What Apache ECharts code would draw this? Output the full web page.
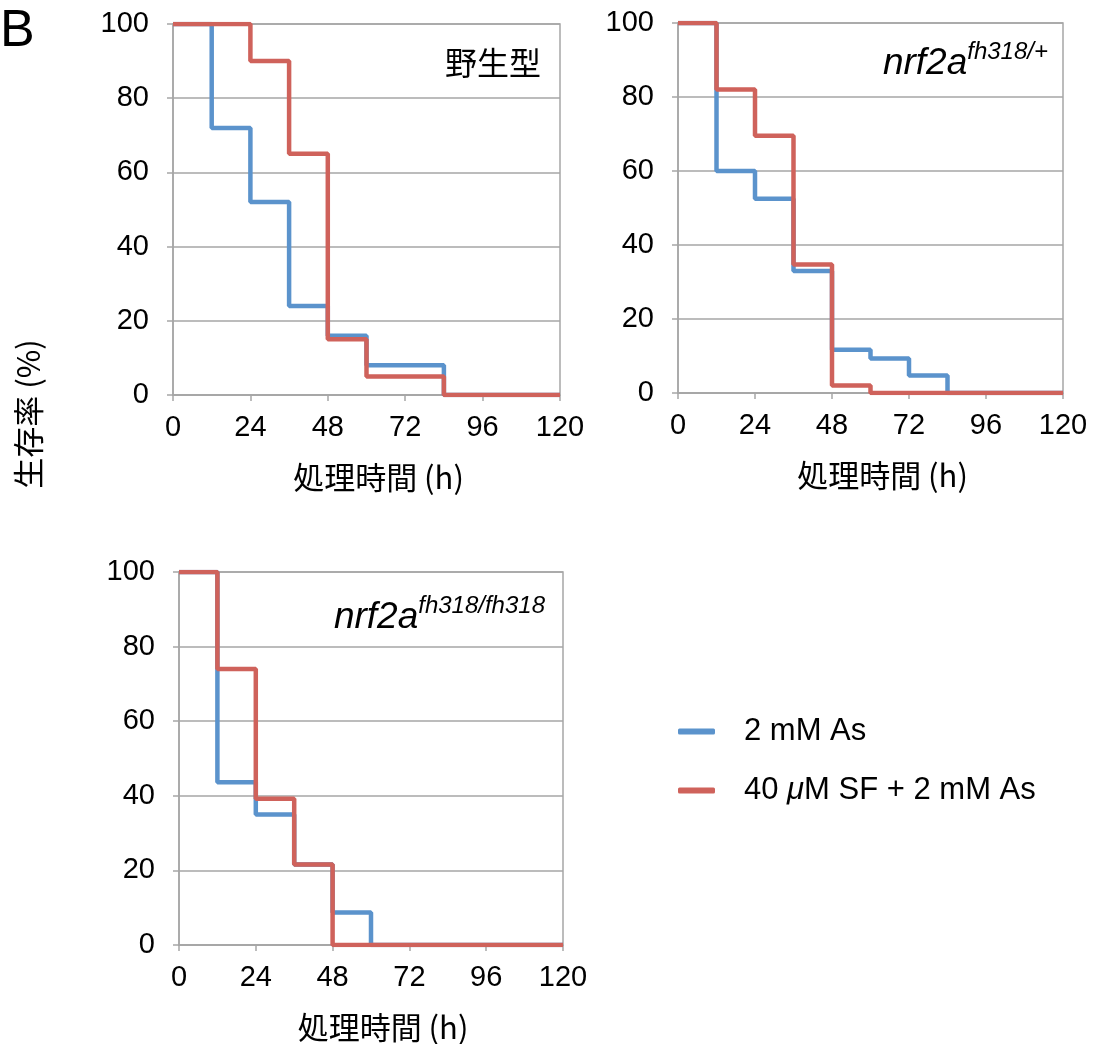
<!DOCTYPE html>
<html>
<head>
<meta charset="utf-8">
<script src="https://cdn.jsdelivr.net/npm/echarts@6/dist/echarts.min.js"></script>
<style>
  html,body{margin:0;padding:0;background:#fff;}
  #main{width:1097px;height:1044px;}
</style>
</head>
<body>
<div id="main"></div>
<script>
// time points (h)
var hours = [0, 12, 24, 36, 48, 60, 72, 84, 96, 108, 120];
var xTicks = [0, 24, 48, 72, 96, 120];
var yTicks = [0, 20, 40, 60, 80, 100];

// survival (%)
var wtAs   = [100, 72, 52, 24, 16, 8, 8, 0, 0, 0, 0];
var wtSfAs = [100, 100, 90, 65, 15, 5, 5, 0, 0, 0, 0];
var hetAs   = [100, 60, 52.5, 33, 11.7, 9.3, 4.7, 0, 0, 0, 0];
var hetSfAs = [100, 82, 69.5, 34.7, 2, 0, 0, 0, 0, 0, 0];
var homAs   = [100, 43.6, 35, 21.6, 8.7, 0, 0, 0, 0, 0, 0];
var homSfAs = [100, 74, 39.2, 21.6, 0, 0, 0, 0, 0, 0, 0];

var nameAs = '2 mM As';
var nameSf = '40 μM SF + 2 mM As';

var BLUE = '#5b93cc';
var RED = '#cf625b';
var GRAY = '#a6a6a6';
var FONT = '"Liberation Sans", Helvetica, Arial, sans-serif';
var CJK = '"Noto Sans CJK JP", "Noto Sans CJK SC", sans-serif';

function pairs(vals){
	var list = [];
	for(var i=0;i<hours.length;i++){
		list.push([hours[i], vals[i]]);
	}
	return list;
}

function mkX(idx){
	return {
		type: 'value', gridIndex: idx, min: xTicks[0], max: xTicks[xTicks.length-1], interval: 24,
		axisLine: {show: true, lineStyle: {color: GRAY, width: 1.5}},
		axisTick: {show: true, length: 6, lineStyle: {color: GRAY, width: 1.5}},
		splitLine: {show: false},
		axisLabel: {color: '#000', fontSize: 29, fontFamily: FONT, margin: 18},
		name: '処理時間 (h)',
		nameLocation: 'middle', nameGap: 67,
		nameTextStyle: {color: '#000', fontSize: 31, fontFamily: CJK, padding: [0, 0, 0, 24]}
	};
}
function mkY(idx){
	return {
		type: 'value', gridIndex: idx, min: yTicks[0], max: yTicks[yTicks.length-1], interval: 20,
		axisLine: {show: true, lineStyle: {color: GRAY, width: 1.5}},
		axisTick: {show: true, length: 6, lineStyle: {color: GRAY, width: 1.5}},
		splitLine: {show: true, lineStyle: {color: GRAY, width: 1.5}},
		axisLabel: {color: '#000', fontSize: 29, fontFamily: FONT, margin: 24}
	};
}
function mkLine(name, vals, idx, color){
	return {
		name: name, type: 'line', step: 'end', xAxisIndex: idx, yAxisIndex: idx,
		data: pairs(vals), showSymbol: false, symbol: 'none', animation: false,
		lineStyle: {color: color, width: 4.5}, itemStyle: {color: color}
	};
}

var supRich = {
	m: {fontSize: 37, fontStyle: 'italic', fontFamily: FONT, fill: '#000', lineHeight: 42, verticalAlign: 'bottom'},
	s: {fontSize: 24, fontStyle: 'italic', fontFamily: FONT, fill: '#000', lineHeight: 42, verticalAlign: 'top'}
};

var chart = echarts.init(document.getElementById('main'));
var option = {
	animation: false,
	grid: [
		{left: 173, top: 24, width: 387, height: 371, show: true, borderColor: GRAY, borderWidth: 1.5},
		{left: 678, top: 23, width: 385, height: 370, show: true, borderColor: GRAY, borderWidth: 1.5},
		{left: 179, top: 572, width: 384, height: 374, show: true, borderColor: GRAY, borderWidth: 1.5}
	],
	xAxis: [mkX(0), mkX(1), mkX(2)],
	yAxis: [mkY(0), mkY(1), mkY(2)],
	legend: {
		orient: 'vertical', left: 673, top: 711, itemGap: 28,
		icon: 'roundRect', itemWidth: 37, itemHeight: 6,
		data: [nameAs, nameSf],
		formatter: function(n){
			if(n===nameSf){ return '{n|40 }{i|μ}{n|M SF + 2 mM As}'; }
			return '{n|' + n + '}';
		},
		textStyle: {
			color: '#000', padding: [0,0,0,24],
			rich: {
				n: {fontSize: 31, fontFamily: FONT, color: '#000', lineHeight: 34},
				i: {fontSize: 31, fontFamily: FONT, fontStyle: 'italic', color: '#000', lineHeight: 34}
			}
		}
	},
	graphic: [
		{type: 'text', left: 0, top: 6, style: {text: 'B', font: '52px ' + FONT, fill: '#000'}},
		{type: 'text', x: 28, y: 414, rotation: Math.PI/2,
			style: {text: '生存率 (%)', font: '31px ' + CJK, fill: '#000', align: 'center', verticalAlign: 'middle'}},
		{type: 'text', x: 541, y: 63,
			style: {text: '野生型', font: '32px ' + CJK, fill: '#000', align: 'right', verticalAlign: 'middle'}},
		{type: 'text', x: 1048, y: 40,
			style: {text: '{m|nrf2a}{s|fh318/+}', align: 'right', verticalAlign: 'top', rich: supRich}},
		{type: 'text', x: 545, y: 594,
			style: {text: '{m|nrf2a}{s|fh318/fh318}', align: 'right', verticalAlign: 'top', rich: supRich}}
	],
	series: [
		mkLine(nameAs, wtAs, 0, BLUE),
		mkLine(nameSf, wtSfAs, 0, RED),
		mkLine(nameAs, hetAs, 1, BLUE),
		mkLine(nameSf, hetSfAs, 1, RED),
		mkLine(nameAs, homAs, 2, BLUE),
		mkLine(nameSf, homSfAs, 2, RED)
	]
};
chart.setOption(option);
</script>
</body>
</html>
